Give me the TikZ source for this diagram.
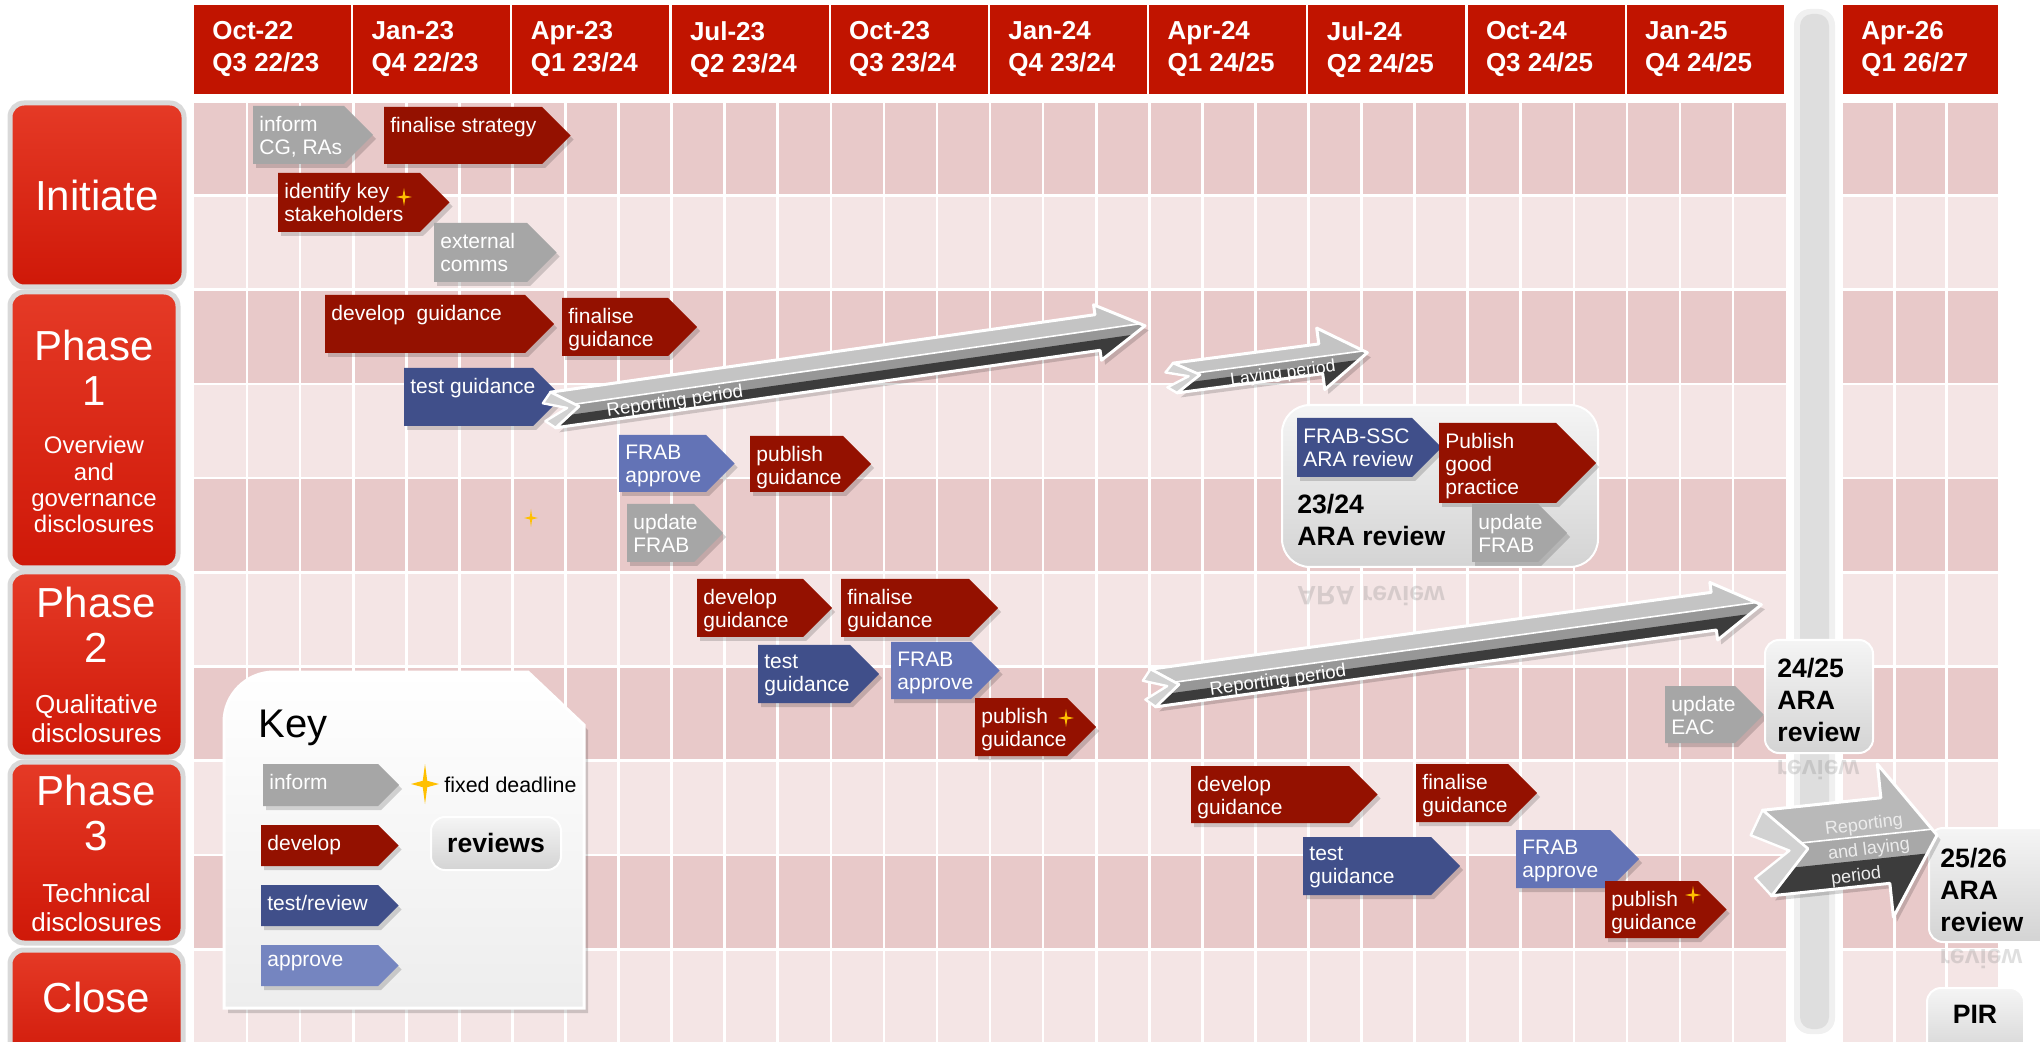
\documentclass[tikz,border=0pt]{standalone}
\usepackage{fontspec}
\setmainfont{Liberation Sans}
\usetikzlibrary{calc}
\definecolor{hdrc}{HTML}{C11400}
\definecolor{rowd}{HTML}{E8C9C9}
\definecolor{rowl}{HTML}{F4E5E5}
\definecolor{phc}{HTML}{CF1808}
\definecolor{phtop}{HTML}{E53A26}
\definecolor{dkred}{HTML}{941100}
\definecolor{infc}{HTML}{A6A6A6}
\definecolor{testc}{HTML}{404F8A}
\definecolor{appc}{HTML}{6373B6}
\definecolor{keyapp}{HTML}{7585C0}
\definecolor{starc}{HTML}{FFC000}
\definecolor{slabl}{HTML}{C4C4C4}
\definecolor{slabm}{HTML}{979797}
\definecolor{slabd}{HTML}{3C3C3C}
% chevron: name, left, top, body right, bottom, colour, text
\newcommand{\chev}[7]{%
  \fill[chevshadow, shift={(3,4)}] (#2,#3) -- (#4,#3) -- ({#4+(#5-#3)/2},{(#3+#5)/2})
    -- (#4,#5) -- (#2,#5) -- cycle;
  \fill[#6] (#2,#3) -- (#4,#3) -- ({#4+(#5-#3)/2},{(#3+#5)/2}) -- (#4,#5) -- (#2,#5) -- cycle;
  \node[chevtext, anchor=north west] (#1) at (#2,#3) {#7};
}
% four point star: x, y, half height, half width
\newcommand{\spark}[4]{%
  \fill[starc] (#1,{#2-#3}) -- ({#1+0.16*#4},{#2-0.16*#3}) -- ({#1+#4},#2)
    -- ({#1+0.16*#4},{#2+0.16*#3}) -- (#1,{#2+#3}) -- ({#1-0.16*#4},{#2+0.16*#3})
    -- ({#1-#4},#2) -- ({#1-0.16*#4},{#2-0.16*#3}) -- cycle;
}
% block arrow: tail x, tail y, angle, length, half thickness, head half width, head length, notch
\newcommand{\slab}[8]{%
  \begin{scope}[shift={(#1,#2)}, rotate=#3]
    \fill[chevshadow, shift={(3,5)}] (0,{-#5}) -- ({#4-#7},{-#5}) -- ({#4-#7},{-#6}) -- (#4,0)
      -- ({#4-#7},#6) -- ({#4-#7},#5) -- (0,#5) -- (#8,0) -- cycle;
    \begin{scope}
      \clip (0,{-#5}) -- ({#4-#7},{-#5}) -- ({#4-#7},{-#6}) -- (#4,0)
        -- ({#4-#7},#6) -- ({#4-#7},#5) -- (0,#5) -- (#8,0) -- cycle;
      \fill[slabmid] (-5,{-#6-5}) rectangle ({#4+5},{#6+5});
      \fill[slabtop] (-5,{-#6-5}) rectangle ({#4+5},{-0.15*#5});
      \fill[slablow] (-5,{0.4*#5}) rectangle ({#4+5},{#6+5});
      \draw[white, line width=0.8pt] (-5,{-0.15*#5}) -- ({#4+5},{-0.15*#5});
    \end{scope}
    \draw[white, line width=1.5pt, line join=round] (0,{-#5}) -- ({#4-#7},{-#5}) -- ({#4-#7},{-#6})
      -- (#4,0) -- ({#4-#7},#6) -- ({#4-#7},#5) -- (0,#5) -- (#8,0) -- cycle;
    \filldraw[slabend, draw=white, line width=1.2pt, line join=round]
      (0,{-#5}) -- (#8,0) -- (0,#5) -- ({-0.35*#8},{0.55*#5}) -- ({0.55*#8},0)
      -- ({-0.35*#8},{-0.45*#5}) -- cycle;
  \end{scope}
}

\begin{document}
\begin{tikzpicture}[x=0.5pt, y=-0.5pt,
    hdrtext/.style={text=white, font=\fontsize{13}{16}\selectfont\bfseries, align=left,
      inner sep=0pt, anchor=north west},
    gridline/.style={white, line width=1.3pt},
    phasebtn/.style={rounded corners=7pt, top color=phtop, bottom color=phc, draw=gray!30,
      line width=2.5pt},
    phbig/.style={text=white, font=\fontsize{21}{22.5}\selectfont, align=center, inner sep=0pt},
    phsmall/.style={text=white, font=\fontsize{12}{13.2}\selectfont, align=center, inner sep=0pt},
    chevshadow/.style={black, opacity=.16},
    chevtext/.style={text=white, font=\fontsize{10.5}{11.5}\selectfont, align=left,
      inner xsep=3pt, inner ysep=5pt},
    revbox/.style={rounded corners=7pt, top color=gray!8, bottom color=gray!34, draw=white,
      line width=1pt},
    revtext/.style={font=\fontsize{13.3}{16}\selectfont\bfseries, align=left, inner sep=0pt},
    mirror/.style={yscale=-1, text=gray, opacity=.25, font=\fontsize{13.3}{16}\selectfont\bfseries,
      inner sep=0pt},
    slabtop/.style={fill=slabl}, slabmid/.style={fill=slabm}, slablow/.style={fill=slabd},
    slabend/.style={fill=gray!35},
    slabtext/.style={text=white, font=\fontsize{9.3}{11}\selectfont, inner sep=0pt},
    keypanel/.style={top color=white, bottom color=gray!14, draw=white, line width=1.5pt}]
  \useasboundingbox (0,0) rectangle (2040,1042);

  % quarter headers
  \foreach \q/\m/\n/\ya/\yb in {0/Oct-22/3/22/23, 1/Jan-23/4/22/23, 2/Apr-23/1/23/24,
      3/Jul-23/2/23/24, 4/Oct-23/3/23/24, 5/Jan-24/4/23/24, 6/Apr-24/1/24/25,
      7/Jul-24/2/24/25, 8/Oct-24/3/24/25, 9/Jan-25/4/24/25} {
    \fill[hdrc] ({194+159.2*\q},5) rectangle ++(157,89);
    \node[hdrtext] (h\q) at ({212+159.2*\q},21) {\m\\Q\n\ \ya/\yb};
  }
  \fill[hdrc] (1843,5) rectangle (1998,94);
  \node[hdrtext] (h10) at (1861,21) {Apr-26\\Q1 26/27};

  % month grid
  \foreach \i/\c in {0/rowd, 1/rowl, 2/rowd, 3/rowl, 4/rowd, 5/rowl, 6/rowd, 7/rowl, 8/rowd, 9/rowl} {
    \fill[\c] (194,{102.7+94.2*\i}) rectangle (1786,{194.2+94.2*\i});
    \fill[\c] (1843,{102.7+94.2*\i}) rectangle (1998,{194.2+94.2*\i});
  }
  \foreach \m in {1,...,29} \draw[gridline] ({194+53.07*\m},100) -- ++(0,945);
  \foreach \m in {1,2} \draw[gridline] ({1843+51.7*\m},100) -- ++(0,945);

  % break between Jan-25 and Apr-26
  \fill[gray!12, rounded corners=8pt] (1794,9) rectangle (1835,1034);
  \fill[gray!26, rounded corners=6pt] (1800,14) rectangle (1829,1029);

  % phase buttons
  \draw[phasebtn] (10,103) rectangle (184,287);
  \node[phbig] (init) at (97,195) {Initiate};
  \draw[phasebtn] (10,292) rectangle (178,568);
  \node[phbig, anchor=north] (ph1) at (94,330) {Phase\\1};
  \node[phsmall, anchor=north] (ph1s) at (94,436) {Overview\\and\\governance\\disclosures};
  \draw[phasebtn] (10,572) rectangle (183,757);
  \node[phbig, anchor=north] (ph2) at (96.5,587) {Phase\\2};
  \node[phsmall, font=\fontsize{13}{14.5}\selectfont, anchor=north] (ph2s) at (96.5,694)
    {Qualitative\\disclosures};
  \draw[phasebtn] (10,762) rectangle (183,943);
  \node[phbig, anchor=north] (ph3) at (96.5,775) {Phase\\3};
  \node[phsmall, font=\fontsize{13}{14.5}\selectfont, anchor=north] (ph3s) at (96.5,883)
    {Technical\\disclosures};
  \draw[phasebtn] (10,950) rectangle (183,1070);
  \node[phbig, anchor=base] (close) at (96.5,1012) {Close};

  % initiate
  \chev{infcg}{253}{106}{344}{164}{infc}{inform\\CG, RAs}
  \chev{finstrat}{384}{107}{542}{164}{dkred}{finalise strategy}
  \chev{idkey}{278}{173}{420}{232}{dkred}{identify key\\stakeholders}
  \spark{404}{197}{9}{8}
  \chev{extcom}{434}{223}{527}{282}{infc}{external\\comms}

  % phase 1
  \chev{devg1}{325}{295}{525}{353}{dkred}{develop\ \ guidance}
  \chev{fing1}{562}{298}{668}{356}{dkred}{finalise\\guidance}
  \chev{testg1}{404}{368}{533}{426}{testc}{test guidance}
  \chev{frab1}{619}{435}{706}{492}{appc}{FRAB\\approve}
  \chev{pubg1}{750}{436}{843}{492}{dkred}{publish\\guidance}
  \chev{updfrab1}{627}{504}{694}{562}{infc}{update\\FRAB}
  \spark{531}{518}{9}{7}
  \slab{553}{410}{8.1}{598}{18}{28}{48}{26}
  \node[slabtext, rotate=8.1] (rep1) at (675,402) {Reporting period};
  \slab{1175}{378}{7.5}{194}{15}{31}{47}{25}
  \node[slabtext, rotate=7.5, font=\fontsize{8.8}{10}\selectfont] (lay1) at (1283,374) {Laying period};

  % 23/24 review
  \draw[revbox, rounded corners=14pt] (1282,405) rectangle (1598,567);
  \chev{frabssc}{1297}{418}{1412}{477}{testc}{FRAB-SSC\\ARA review}
  \chev{pubgood}{1439}{423}{1556}{503}{dkred}{Publish\\good\\practice}
  \chev{updfrab2}{1472}{504}{1538}{562}{infc}{update\\FRAB}
  \node[revtext, anchor=north west] (r2324) at (1297,494) {23/24\\ARA review};
  \node[mirror] (m2324) at (1371,596) {ARA review};

  % phase 2
  \chev{devg2}{697}{579}{803}{637}{dkred}{develop\\guidance}
  \chev{fing2}{841}{579}{969}{637}{dkred}{finalise\\guidance}
  \chev{testg2}{758}{645}{850}{703}{testc}{test\\guidance}
  \chev{frab2}{891}{642}{971}{699}{appc}{FRAB\\approve}
  \chev{pubg2}{975}{698}{1067}{756}{dkred}{publish\\guidance}
  \spark{1066}{718}{9}{8}
  \slab{1153}{688}{7.8}{614}{19}{29}{48}{26}
  \node[slabtext, rotate=7.8] (rep2) at (1278,681) {Reporting period};
  \chev{updeac}{1665}{686}{1735}{743}{infc}{update\\EAC}
  \draw[revbox] (1765,640) rectangle (1873,753);
  \node[revtext, anchor=north west] (r2425) at (1777,658) {24/25\\ARA\\review};
  \node[mirror] (m2425) at (1818,770) {review};

  % phase 3
  \chev{devg3}{1191}{766}{1349}{823}{dkred}{develop\\guidance}
  \chev{fing3}{1416}{764}{1508}{822}{dkred}{finalise\\guidance}
  \chev{testg3}{1303}{837}{1431}{895}{testc}{test\\guidance}
  \chev{frab3}{1516}{830}{1610}{888}{appc}{FRAB\\approve}
  \chev{pubg3}{1605}{881}{1698}{938}{dkred}{publish\\guidance}
  \spark{1693}{895}{9}{8}
  \draw[revbox] (1929,828) rectangle (2060,942);
  \node[revtext, anchor=north west] (r2526) at (1940,848) {25/26\\ARA\\review};
  \node[mirror] (m2526) at (1981,959) {review};
  \begin{scope}[slabtop/.style={fill=gray!55}, slabmid/.style={fill=gray!68}]
    \slab{1767}{853}{6}{171}{43}{77}{52}{41}
  \end{scope}
  \node[slabtext, rotate=7, align=left, text=gray!15, font=\fontsize{9}{12.5}\selectfont]
    (replay) at (1869,850) {Reporting\\and laying\\period};

  % close
  \draw[revbox] (1927,988) rectangle (2024,1060);
  \node[revtext, anchor=base] (pir) at (1975,1023) {PIR};

  % key
  \fill[chevshadow, shift={(4,5)}] (224,1008) -- (224,722) arc[start angle=180, end angle=270, radius=50]
    -- (528,672) -- (584,725) -- (584,1008) -- cycle;
  \path[keypanel] (224,1008) -- (224,722) arc[start angle=180, end angle=270, radius=50]
    -- (528,672) -- (584,725) -- (584,1008) -- cycle;
  \node[font=\fontsize{20}{24}\selectfont, anchor=base west, inner sep=0pt] (key) at (258,737) {Key};
  \chev{kinf}{263}{764}{378}{806}{infc}{inform}
  \chev{kdev}{261}{825}{378}{866}{dkred}{develop}
  \chev{ktest}{261}{885}{378}{926}{testc}{test/review}
  \chev{kapp}{261}{945}{378}{986}{keyapp}{approve}
  \spark{425}{784}{20}{14}
  \node[font=\fontsize{10.7}{12}\selectfont, anchor=base west, inner sep=0pt] (fixed) at (444,792)
    {fixed deadline};
  \draw[revbox] (431,817) rectangle (561,870);
  \node[revtext, anchor=base] (krev) at (496,852) {reviews};
\end{tikzpicture}
\end{document}
